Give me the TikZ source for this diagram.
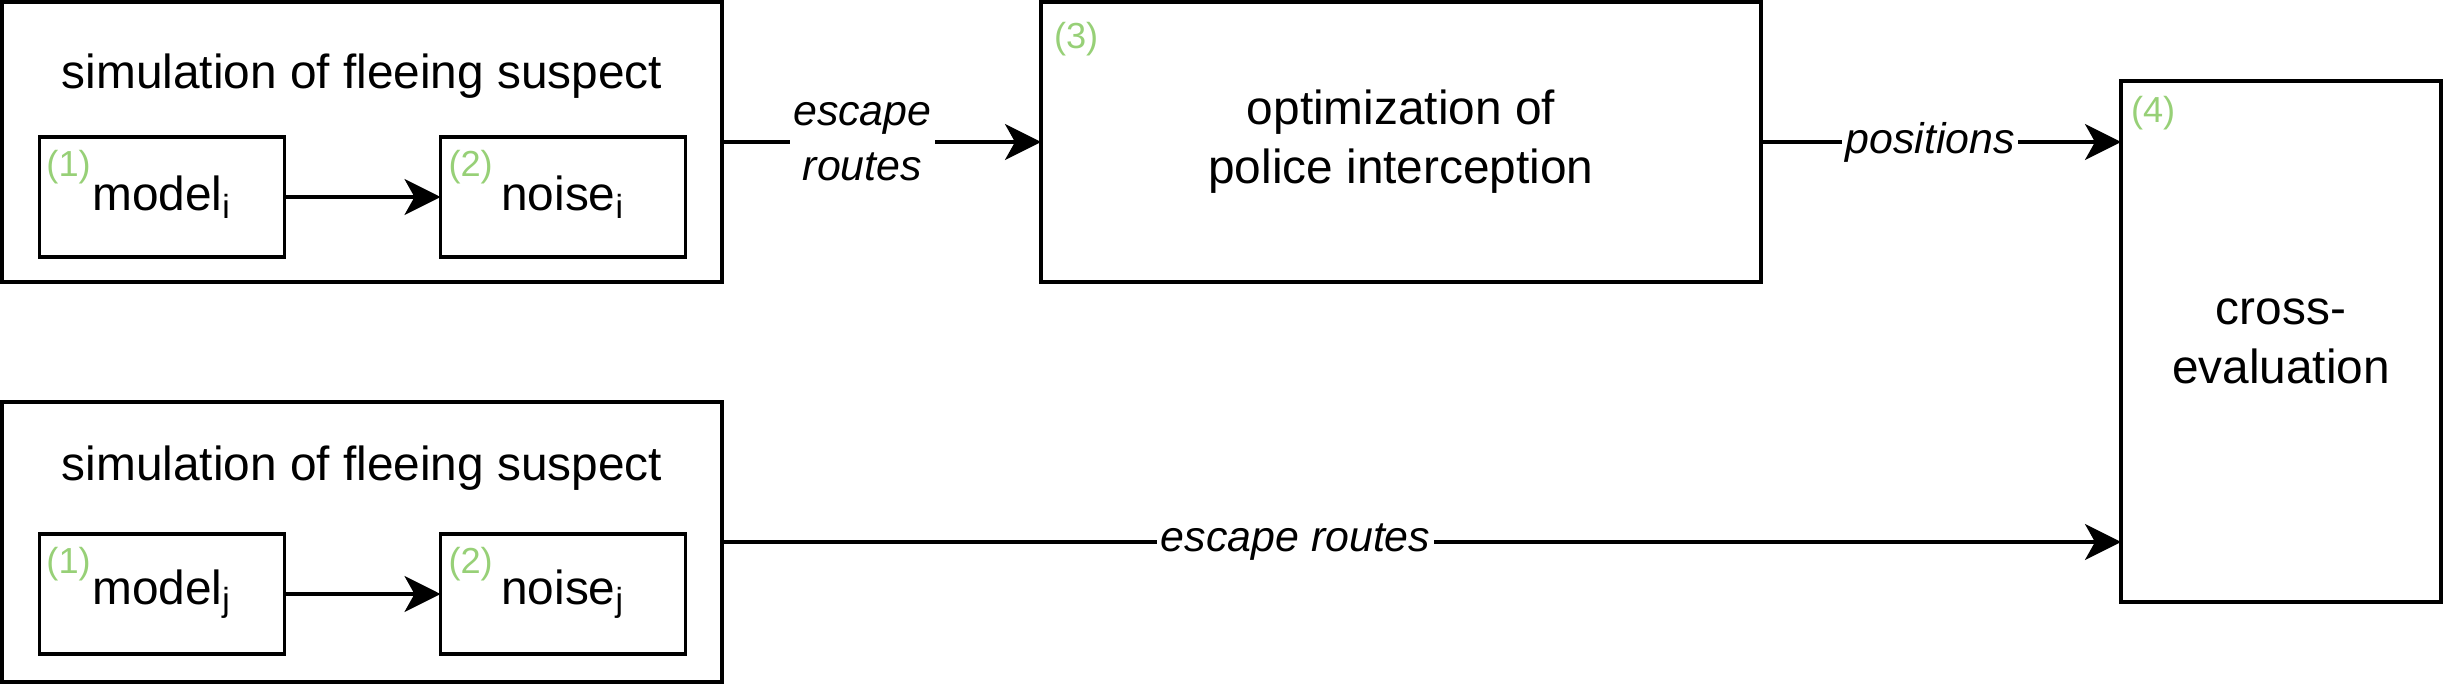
\documentclass[tikz,border=0pt]{standalone}
\usepackage{fontspec}
\setmainfont{Liberation Sans}
\usetikzlibrary{arrows.meta, positioning}

\definecolor{tagGreen}{HTML}{97D077}

\begin{document}
\begin{tikzpicture}[
    every node/.style={inner sep=0pt, outer sep=0pt},
    box/.style={draw, line width=1pt, rectangle, align=center, font=\fontsize{13.6}{16.8}\selectfont},
    simbox/.style={box, minimum width=7.2cm, minimum height=2.8cm},
    subbox/.style={box, minimum width=2.45cm, minimum height=1.2cm},
    simtitle/.style={anchor=base, font=\fontsize{13.6}{16.8}\selectfont},
    tag/.style={anchor=north west, text=tagGreen, font=\fontsize{10.3}{12}\selectfont},
    edgelabel/.style={fill=white, inner sep=1pt, align=center, font=\fontsize{12.2}{15.6}\selectfont\itshape},
    arrow/.style={-{Stealth[length=0.36cm, width=0.36cm, inset=0.1cm]}, line width=1pt}
]
\useasboundingbox (0,0) rectangle (24.44,-6.84);

% two simulations
\node (sim1) [simbox] at (3.62,-1.42) {};
\node (sim2) [simbox] at (3.62,-5.42) {};
\node (title1) [simtitle] at ([yshift=-0.86cm]sim1.north) {simulation of fleeing suspect};
\node (title2) [simtitle] at ([yshift=-0.78cm]sim2.north) {simulation of fleeing suspect};

\node (model1) [subbox] at (1.62,-1.97) {model\textsubscript{i}};
\node (noise1) [subbox] at (5.63,-1.97) {noise\textsubscript{i}};
\node (model2) [subbox] at (1.62,-5.94) {model\textsubscript{j}};
\node (noise2) [subbox] at (5.63,-5.94) {noise\textsubscript{j}};

% optimization and evaluation
\node (opt) [simbox] at (14.01,-1.42) {optimization of\\police interception};
\node (cross) [box, minimum width=3.2cm, minimum height=5.21cm] at (22.81,-3.415) {cross-\\evaluation};

% green step numbers
\node (tag1) [tag] at ([shift={(0.07,-0.13)}]model1.north west) {(1)};
\node (tag2) [tag] at ([shift={(0.08,-0.13)}]noise1.north west) {(2)};
\node (tag1b) [tag] at ([shift={(0.07,-0.13)}]model2.north west) {(1)};
\node (tag2b) [tag] at ([shift={(0.08,-0.13)}]noise2.north west) {(2)};
\node (tag3) [tag] at ([shift={(0.13,-0.2)}]opt.north west) {(3)};
\node (tag4) [tag] at ([shift={(0.1,-0.15)}]cross.north west) {(4)};

\draw[arrow] (model1) -- (noise1);
\draw[arrow] (model2) -- (noise2);
\draw[arrow] (sim1) -- node[edgelabel, pos=0.44] {escape\\routes} (opt);
\draw[arrow] (opt.east) -- node[edgelabel, pos=0.47] {positions} (opt.east -| cross.west);
\draw[arrow] (sim2.east) -- node[edgelabel, pos=0.41] {escape routes} (sim2.east -| cross.west);

\end{tikzpicture}
\end{document}
